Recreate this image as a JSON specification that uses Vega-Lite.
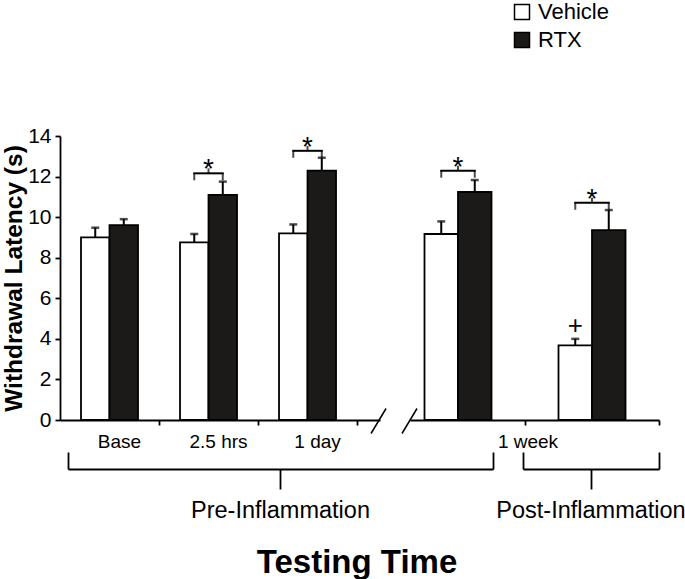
{
  "$schema": "https://vega.github.io/schema/vega-lite/v6.json",
  "width": 599,
  "height": 284,
  "autosize": "none",
  "padding": {"left": 60, "top": 136, "right": 26, "bottom": 159},
  "config": {
    "font": "Liberation Sans",
    "view": {"stroke": null},
    "axis": {"domainColor": "black", "domainWidth": 1.8, "tickColor": "black", "tickWidth": 1.8, "labelColor": "black", "titleColor": "black", "grid": false, "labelOverlap": false, "labelLimit": 0},
    "legend": {"labelColor": "black"}
  },
  "datasets": {
    "latency": [
      {"time": "Base", "treatment": "Vehicle", "mean": 9.0, "upper": 9.48, "note": ""},
      {"time": "Base", "treatment": "RTX", "mean": 9.61, "upper": 9.9, "note": ""},
      {"time": "2.5 hrs", "treatment": "Vehicle", "mean": 8.76, "upper": 9.17, "note": ""},
      {"time": "2.5 hrs", "treatment": "RTX", "mean": 11.1, "upper": 11.75, "note": ""},
      {"time": "1 day", "treatment": "Vehicle", "mean": 9.2, "upper": 9.64, "note": ""},
      {"time": "1 day", "treatment": "RTX", "mean": 12.29, "upper": 12.93, "note": ""},
      {"time": "1 week (pre)", "treatment": "Vehicle", "mean": 9.17, "upper": 9.79, "note": ""},
      {"time": "1 week (pre)", "treatment": "RTX", "mean": 11.24, "upper": 11.83, "note": ""},
      {"time": "1 week (post)", "treatment": "Vehicle", "mean": 3.68, "upper": 4.0, "note": "+"},
      {"time": "1 week (post)", "treatment": "RTX", "mean": 9.36, "upper": 10.35, "note": ""}
    ],
    "significance": [
      {"time": "2.5 hrs", "treatment": "Vehicle", "level": 12.16},
      {"time": "2.5 hrs", "treatment": "RTX", "level": 12.16},
      {"time": "1 day", "treatment": "Vehicle", "level": 13.27},
      {"time": "1 day", "treatment": "RTX", "level": 13.27},
      {"time": "1 week (pre)", "treatment": "Vehicle", "level": 12.29},
      {"time": "1 week (pre)", "treatment": "RTX", "level": 12.29},
      {"time": "1 week (post)", "treatment": "Vehicle", "level": 10.71},
      {"time": "1 week (post)", "treatment": "RTX", "level": 10.71}
    ],
    "phases": [
      {"phase": "Pre-Inflammation"},
      {"phase": "Post-Inflammation"}
    ]
  },
  "resolve": {"scale": {"x": "independent", "xOffset": "independent"}, "axis": {"x": "independent"}},
  "layer": [
    {
      "encoding": {
        "x": {
          "field": "time", "type": "nominal",
          "scale": {"domain": ["Base", "2.5 hrs", "1 day"], "range": [0, 320], "paddingInner": 0, "paddingOuter": 0.116, "align": 0},
          "axis": {"orient": "bottom", "bandPosition": 1, "tickSize": 5, "labelFontSize": 19, "labelPadding": 7, "labelOffset": 10, "labelAngle": 0,
                   "title": "Testing Time", "titleFontSize": 33, "titleFontWeight": "bold", "titleX": 296.5, "titleY": 152, "titleBaseline": "alphabetic", "titleAlign": "center"}
        }
      },
      "layer": [
        {
          "data": {"name": "latency"},
          "transform": [{"filter": {"field": "time", "oneOf": ["Base", "2.5 hrs", "1 day"]}}],
          "encoding": {
            "xOffset": {"field": "treatment", "type": "nominal", "scale": {"domain": ["Vehicle", "RTX"], "paddingInner": 0, "paddingOuter": 0.737}}
          },
          "layer": [
            {
              "mark": {"type": "bar", "stroke": "black", "strokeWidth": 1.8},
              "encoding": {
                "y": {"field": "mean", "type": "quantitative", "scale": {"domain": [0, 14], "nice": false}, "title": "Withdrawal Latency (s)",
                      "axis": {"values": [0, 2, 4, 6, 8, 10, 12, 14], "tickSize": 5, "labelFontSize": 21, "labelPadding": 4,
                               "titleFontSize": 24.5, "titleFontWeight": "bold", "titleX": -39, "titleY": 142, "titleAngle": 270, "titleAlign": "center", "titleBaseline": "alphabetic"}},
                "fill": {"field": "treatment", "type": "nominal", "scale": {"domain": ["Vehicle", "RTX"], "range": ["#ffffff", "#1c1919"]},
                         "legend": {"orient": "none", "legendX": 451, "legendY": -135, "title": null, "direction": "vertical", "symbolType": "square", "symbolSize": 225,
                                    "symbolStrokeColor": "black", "symbolStrokeWidth": 1.5, "labelFontSize": 22, "labelOffset": 5, "rowPadding": 6, "padding": 0}}
              }
            },
            {
              "mark": {"type": "rule", "strokeWidth": 2, "color": "black"},
              "encoding": {
                "y": {"field": "mean", "type": "quantitative", "title": "Withdrawal Latency (s)"},
                "y2": {"field": "upper"}
              }
            },
            {
              "mark": {"type": "tick", "thickness": 2.5, "size": 8, "color": "black"},
              "encoding": {"y": {"field": "upper", "type": "quantitative", "title": "Withdrawal Latency (s)"}}
            }
          ]
        },
        {
          "data": {"name": "significance"},
          "transform": [{"filter": {"field": "time", "oneOf": ["Base", "2.5 hrs", "1 day"]}}],
          "layer": [
            {
              "mark": {"type": "line", "color": "black", "strokeWidth": 2, "strokeCap": "square"},
              "encoding": {
                "xOffset": {"field": "treatment", "type": "nominal", "scale": {"domain": ["Vehicle", "RTX"], "paddingInner": 0, "paddingOuter": 0.737}},
                "y": {"field": "level", "type": "quantitative", "title": "Withdrawal Latency (s)"},
                "detail": {"field": "time"}
              }
            },
            {
              "mark": {"type": "tick", "orient": "vertical", "size": 7, "thickness": 2, "color": "black", "yOffset": 3.5},
              "encoding": {
                "xOffset": {"field": "treatment", "type": "nominal", "scale": {"domain": ["Vehicle", "RTX"], "paddingInner": 0, "paddingOuter": 0.737}},
                "y": {"field": "level", "type": "quantitative", "title": "Withdrawal Latency (s)"}
              }
            },
            {
              "transform": [{"filter": "datum.treatment === 'Vehicle'"}],
              "mark": {"type": "tick", "orient": "vertical", "size": 5, "thickness": 2, "color": "black", "yOffset": -2.5},
              "encoding": {"y": {"field": "level", "type": "quantitative", "title": "Withdrawal Latency (s)"}}
            },
            {
              "transform": [{"filter": "datum.treatment === 'Vehicle'"}],
              "mark": {"type": "text", "text": "*", "fontSize": 28, "baseline": "alphabetic", "align": "center", "dy": 5, "color": "black"},
              "encoding": {"y": {"field": "level", "type": "quantitative", "title": "Withdrawal Latency (s)"}}
            }
          ]
        },
        {
          "data": {"name": "phases"},
          "transform": [{"filter": "datum.phase === 'Pre-Inflammation'"}],
          "mark": {"type": "rule", "color": "black", "strokeWidth": 1.5, "xOffset": 14, "x2Offset": 29, "yOffset": 13.5, "y2Offset": -11.5},
          "encoding": {
            "x": {"datum": "1 day", "type": "nominal", "bandPosition": 1},
            "x2": {"datum": "1 day", "bandPosition": 1},
            "y": {"datum": 0, "type": "quantitative"},
            "y2": {"datum": 0}
          }
        }
      ]
    },
    {
      "encoding": {
        "x": {
          "field": "time", "type": "nominal",
          "scale": {"domain": ["1 week (pre)", "1 week (post)"], "range": [331, 599], "paddingInner": 0, "paddingOuter": 0},
          "axis": {"orient": "bottom", "domain": false, "bandPosition": 1, "tickSize": 5, "labelFontSize": 19, "labelPadding": 7, "labelOffset": 70, "labelAngle": 0,
                   "labelExpr": "datum.value === '1 week (pre)' ? '1 week' : ''", "title": null}
        }
      },
      "layer": [
        {
          "data": {"name": "latency"},
          "transform": [{"filter": {"field": "time", "oneOf": ["1 week (pre)", "1 week (post)"]}}],
          "encoding": {
            "xOffset": {"field": "treatment", "type": "nominal", "scale": {"domain": ["Vehicle", "RTX"], "paddingInner": 0, "paddingOuter": 1.35}}
          },
          "layer": [
            {
              "mark": {"type": "bar", "stroke": "black", "strokeWidth": 1.8},
              "encoding": {
                "y": {"field": "mean", "type": "quantitative", "title": "Withdrawal Latency (s)"},
                "fill": {"field": "treatment", "type": "nominal"}
              }
            },
            {
              "mark": {"type": "rule", "strokeWidth": 2, "color": "black"},
              "encoding": {
                "y": {"field": "mean", "type": "quantitative", "title": "Withdrawal Latency (s)"},
                "y2": {"field": "upper"}
              }
            },
            {
              "mark": {"type": "tick", "thickness": 2.5, "size": 8, "color": "black"},
              "encoding": {"y": {"field": "upper", "type": "quantitative", "title": "Withdrawal Latency (s)"}}
            },
            {
              "mark": {"type": "text", "fontSize": 26, "baseline": "middle", "align": "center", "dy": -13, "color": "black"},
              "encoding": {
                "y": {"field": "upper", "type": "quantitative", "title": "Withdrawal Latency (s)"},
                "text": {"field": "note"}
              }
            }
          ]
        },
        {
          "data": {"name": "significance"},
          "transform": [{"filter": {"field": "time", "oneOf": ["1 week (pre)", "1 week (post)"]}}],
          "layer": [
            {
              "mark": {"type": "line", "color": "black", "strokeWidth": 2, "strokeCap": "square"},
              "encoding": {
                "xOffset": {"field": "treatment", "type": "nominal", "scale": {"domain": ["Vehicle", "RTX"], "paddingInner": 0, "paddingOuter": 1.35}},
                "y": {"field": "level", "type": "quantitative", "title": "Withdrawal Latency (s)"},
                "detail": {"field": "time"}
              }
            },
            {
              "mark": {"type": "tick", "orient": "vertical", "size": 7, "thickness": 2, "color": "black", "yOffset": 3.5},
              "encoding": {
                "xOffset": {"field": "treatment", "type": "nominal", "scale": {"domain": ["Vehicle", "RTX"], "paddingInner": 0, "paddingOuter": 1.35}},
                "y": {"field": "level", "type": "quantitative", "title": "Withdrawal Latency (s)"}
              }
            },
            {
              "transform": [{"filter": "datum.treatment === 'Vehicle'"}],
              "mark": {"type": "tick", "orient": "vertical", "size": 5, "thickness": 2, "color": "black", "yOffset": -2.5},
              "encoding": {"y": {"field": "level", "type": "quantitative", "title": "Withdrawal Latency (s)"}}
            },
            {
              "transform": [{"filter": "datum.treatment === 'Vehicle'"}],
              "mark": {"type": "text", "text": "*", "fontSize": 28, "baseline": "alphabetic", "align": "center", "dy": 5, "color": "black"},
              "encoding": {"y": {"field": "level", "type": "quantitative", "title": "Withdrawal Latency (s)"}}
            }
          ]
        },
        {
          "data": {"name": "phases"},
          "transform": [{"filter": "datum.phase === 'Pre-Inflammation'"}],
          "mark": {"type": "rule", "color": "black", "strokeWidth": 1.5, "xOffset": 11, "x2Offset": 26, "yOffset": 13.5, "y2Offset": -11.5},
          "encoding": {
            "x": {"datum": "1 week (pre)", "type": "nominal", "bandPosition": 0},
            "x2": {"datum": "1 week (pre)", "bandPosition": 0},
            "y": {"datum": 0, "type": "quantitative"},
            "y2": {"datum": 0}
          }
        }
      ]
    },
    {
      "data": {"name": "phases"},
      "transform": [{"filter": "datum.phase === 'Post-Inflammation'"}],
      "mark": {"type": "rule", "opacity": 0},
      "encoding": {
        "x": {"field": "phase", "type": "nominal", "scale": {"range": [350, 599], "paddingInner": 0, "paddingOuter": 0},
              "axis": {"orient": "bottom", "domain": true, "ticks": false, "labels": false, "title": null}}
      }
    },
    {
      "data": {"name": "phases"},
      "transform": [{"filter": "datum.phase === 'Pre-Inflammation'"}],
      "mark": {"type": "rule", "opacity": 0},
      "encoding": {
        "x": {"field": "phase", "type": "nominal", "scale": {"range": [8, 433], "paddingInner": 0, "paddingOuter": 0},
              "axis": {"orient": "bottom", "offset": 49, "tickBand": "extent", "tickSize": -17, "labels": false, "title": null}}
      }
    },
    {
      "data": {"name": "phases"},
      "transform": [{"filter": "datum.phase === 'Pre-Inflammation'"}],
      "mark": {"type": "rule", "opacity": 0},
      "encoding": {
        "x": {"field": "phase", "type": "nominal", "scale": {"range": [8, 433], "paddingInner": 0, "paddingOuter": 0},
              "axis": {"orient": "bottom", "offset": 49, "domain": false, "tickSize": 20, "labelFontSize": 23.5, "labelPadding": 9.5, "labelAngle": 0, "title": null}}
      }
    },
    {
      "data": {"name": "phases"},
      "transform": [{"filter": "datum.phase === 'Post-Inflammation'"}],
      "mark": {"type": "rule", "opacity": 0},
      "encoding": {
        "x": {"field": "phase", "type": "nominal", "scale": {"range": [463, 599], "paddingInner": 0, "paddingOuter": 0},
              "axis": {"orient": "bottom", "offset": 49, "tickBand": "extent", "tickSize": -17, "labels": false, "title": null}}
      }
    },
    {
      "data": {"name": "phases"},
      "transform": [{"filter": "datum.phase === 'Post-Inflammation'"}],
      "mark": {"type": "rule", "opacity": 0},
      "encoding": {
        "x": {"field": "phase", "type": "nominal", "scale": {"range": [463, 599], "paddingInner": 0, "paddingOuter": 0},
              "axis": {"orient": "bottom", "offset": 49, "domain": false, "tickSize": 20, "labelFontSize": 23.5, "labelPadding": 9.5, "labelAngle": 0, "title": null}}
      }
    }
  ]
}
